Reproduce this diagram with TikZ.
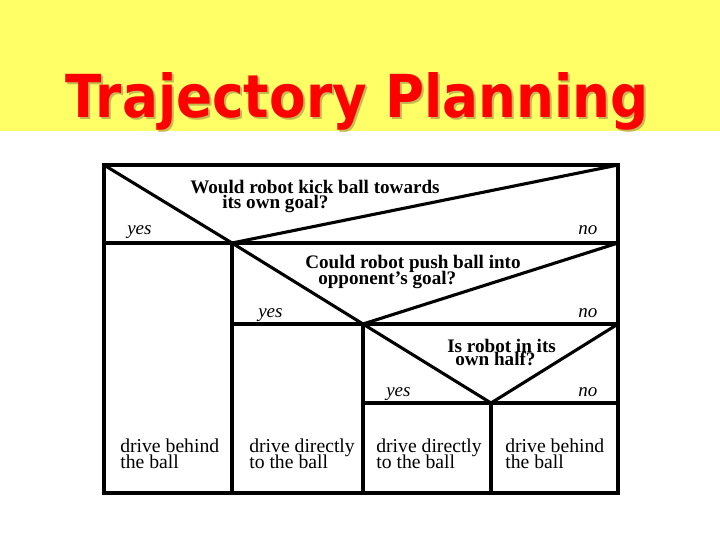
\documentclass[tikz,border=0pt]{standalone}
\usepackage{fontspec}
\setmainfont{Liberation Serif}
\newfontfamily\titlefont{DejaVu Sans}
\usetikzlibrary{positioning}
\definecolor{slideyellow}{RGB}{255,255,102}
\definecolor{titlered}{RGB}{255,0,0}
\definecolor{titleshadow}{RGB}{196,186,84}

\tikzset{
  box/.style={line width=2.2pt},
  question/.style={anchor=base west, inner sep=0pt, font=\bfseries\fontsize{13.6}{12}\selectfont},
  answer/.style={anchor=base west, inner sep=0pt, font=\itshape\fontsize{13.5}{12}\selectfont},
  action/.style={anchor=base west, inner sep=0pt, font=\fontsize{14}{12}\selectfont},
}

\begin{document}
\begin{tikzpicture}[x=0.025cm, y=-0.025cm]
  \useasboundingbox (0,0) rectangle (720,540);
  % slide header
  \fill[slideyellow] (0,0) rectangle (720,131);
  \node[anchor=base west, inner sep=0pt, text=titleshadow] (shadow) at (67,119)
    {\resizebox{415pt}{32pt}{\titlefont\bfseries Trajectory Planning}};
  \node[anchor=base west, inner sep=0pt, text=titlered] (title) at (65,117)
    {\resizebox{415pt}{32pt}{\titlefont\bfseries Trajectory Planning}};

  % corners and split points of the chart
  \coordinate (tl) at (104,165);
  \coordinate (tr) at (618,165);
  \coordinate (br) at (618,493);
  \coordinate (l1) at (104,243);
  \coordinate (p1) at (232,243);
  \coordinate (r1) at (618,243);
  \coordinate (l2) at (232,324);
  \coordinate (p2) at (363,324);
  \coordinate (r2) at (618,324);
  \coordinate (l3) at (363,403);
  \coordinate (p3) at (491,403);
  \coordinate (r3) at (618,403);
  \coordinate (b1) at (232,493);
  \coordinate (b2) at (363,493);
  \coordinate (b3) at (491,493);

  \draw[box] (tl) rectangle (br);
  \draw[box] (l1) -- (r1);
  \draw[box] (l2) -- (r2);
  \draw[box] (l3) -- (r3);
  \draw[box] (p1) -- (b1);
  \draw[box] (p2) -- (b2);
  \draw[box] (p3) -- (b3);
  % decision triangles
  \draw[box] (tl) -- (p1) -- (tr);
  \draw[box] (p1) -- (p2) -- (r1);
  \draw[box] (p2) -- (p3) -- (r2);

  % questions
  \node[question] (q1a) at (190,193) {Would robot kick ball towards};
  \node[question] (q1b) at (222,208) {its own goal?};
  \node[question] (q2a) at (305,268) {Could robot push ball into};
  \node[question] (q2b) at (318,284) {opponent’s goal?};
  \node[question] (q3a) at (447,352) {Is robot in its};
  \node[question] (q3b) at (455,365) {own half?};

  % branch labels
  \node[answer] (y1) at (127,234) {yes};
  \node[answer] (n1) at (578,234) {no};
  \node[answer] (y2) at (258,317) {yes};
  \node[answer] (n2) at (578,317) {no};
  \node[answer] (y3) at (386,396) {yes};
  \node[answer] (n3) at (578,396) {no};

  % actions
  \node[action] (a1) at (120,452) {drive behind};
  \node[action] (a1b) at (120,468) {the ball};
  \node[action] (a2) at (249,452) {drive directly};
  \node[action] (a2b) at (249,468) {to the ball};
  \node[action] (a3) at (376,452) {drive directly};
  \node[action] (a3b) at (376,468) {to the ball};
  \node[action] (a4) at (505,452) {drive behind};
  \node[action] (a4b) at (505,468) {the ball};
\end{tikzpicture}
\end{document}
